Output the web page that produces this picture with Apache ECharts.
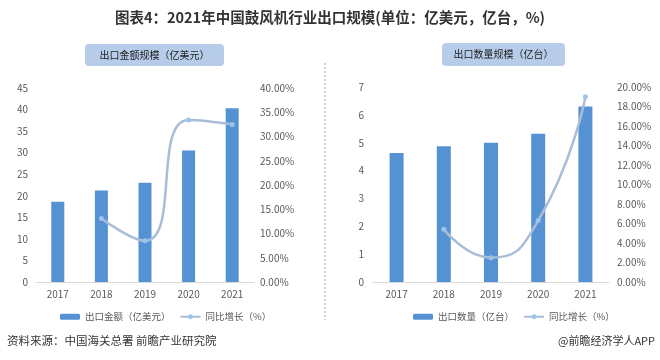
<!DOCTYPE html>
<html><head><meta charset="utf-8">
<script src="https://cdn.jsdelivr.net/npm/echarts@6/dist/echarts.min.js"></script>
<style>html,body{margin:0;padding:0;background:#fff}#c{width:660px;height:360px}</style>
</head><body><div id="c"></div>
<script>
var years = ['2017','2018','2019','2020','2021'];
var exportValue = [18.6, 21.2, 23.0, 30.5, 40.3];
var valueGrowth = [null, 0.131, 0.085, 0.334, 0.325];
var exportVolume = [4.63, 4.87, 5.0, 5.32, 6.3];
var volumeGrowth = [null, 0.054, 0.025, 0.063, 0.19];
var titleText = '图表4：2021年中国鼓风机行业出口规模(单位：亿美元，亿台，%)';
var leftBox = '出口金额规模（亿美元）';
var rightBox = '出口数量规模（亿台）';
var nameValue = '出口金额（亿美元）';
var nameVolume = '出口数量（亿台）';
var nameGrowth = '同比增长（%）';

var FONT = '"Noto Sans CJK SC", "Noto Sans", sans-serif';
var BAR = '#5592d4';
var LINE = '#a9bdd6';
var DOT = '#9cc5ec';
var LBL = {color:'#595959', fontSize:10, fontFamily:FONT};

function pct(v){ return (v*100).toFixed(2) + '%'; }

var chart = echarts.init(document.getElementById('c'), null, {renderer:'canvas'});
chart.setOption({
  animation:false,
  textStyle:{fontFamily:FONT},
  grid:[
    {left:36, top:88, width:218, height:194},
    {left:373, top:87, width:236, height:195}
  ],
  xAxis:[
    {gridIndex:0, type:'category', data:years, axisTick:{show:false},
     axisLine:{lineStyle:{color:'#d9d9d9'}}, axisLabel:Object.assign({margin:7}, LBL)},
    {gridIndex:1, type:'category', data:years, axisTick:{show:false},
     axisLine:{lineStyle:{color:'#d9d9d9'}}, axisLabel:Object.assign({margin:7}, LBL)}
  ],
  yAxis:[
    {gridIndex:0, type:'value', min:0, max:45, interval:5, splitLine:{show:false},
     axisLine:{show:false}, axisTick:{show:false}, axisLabel:Object.assign({margin:8}, LBL)},
    {gridIndex:0, type:'value', min:0, max:0.40, interval:0.05, splitLine:{show:false},
     axisLine:{show:false}, axisTick:{show:false}, axisLabel:Object.assign({margin:6, formatter:pct}, LBL)},
    {gridIndex:1, type:'value', min:0, max:7, interval:1, splitLine:{show:false},
     axisLine:{show:false}, axisTick:{show:false}, axisLabel:Object.assign({margin:9}, LBL)},
    {gridIndex:1, type:'value', min:0, max:0.20, interval:0.02, splitLine:{show:false},
     axisLine:{show:false}, axisTick:{show:false}, axisLabel:Object.assign({margin:8, formatter:pct}, LBL)}
  ],
  legend:[
    {left:55, top:307, itemWidth:20, itemHeight:6, itemGap:9, data:[nameValue, nameGrowth],
     textStyle:{color:'#595959', fontSize:9.5, fontFamily:FONT}},
    {left:408, top:307, itemWidth:20, itemHeight:6, itemGap:9, data:[nameVolume, nameGrowth],
     textStyle:{color:'#595959', fontSize:9.5, fontFamily:FONT}}
  ],
  series:[
    {name:nameValue, type:'bar', xAxisIndex:0, yAxisIndex:0, data:exportValue, barWidth:13,
     itemStyle:{color:BAR}},
    {name:nameGrowth, type:'line', xAxisIndex:0, yAxisIndex:1, data:valueGrowth, smooth:0.55,
     symbol:'circle', symbolSize:5, lineStyle:{color:LINE, width:2.5}, itemStyle:{color:DOT}},
    {name:nameVolume, type:'bar', xAxisIndex:1, yAxisIndex:2, data:exportVolume, barWidth:14,
     itemStyle:{color:BAR}},
    {name:nameGrowth, type:'line', xAxisIndex:1, yAxisIndex:3, data:volumeGrowth, smooth:0.55,
     symbol:'circle', symbolSize:5, lineStyle:{color:LINE, width:2.5}, itemStyle:{color:DOT}}
  ],
  graphic:[
    {type:'text', left:'center', top:10, style:{text:titleText, fill:'#333', fontSize:14.5, fontWeight:'bold', fontFamily:FONT}},
    {type:'rect', shape:{x:85, y:44, width:139, height:22, r:4}, style:{fill:'#b7cce9'}},
    {type:'text', x:154.5, y:55, style:{text:leftBox, fill:'#222', fontSize:10, fontFamily:FONT, align:'center', verticalAlign:'middle'}},
    {type:'rect', shape:{x:442, y:43, width:123, height:23, r:4}, style:{fill:'#b7cce9'}},
    {type:'text', x:503.5, y:54.5, style:{text:rightBox, fill:'#222', fontSize:10, fontFamily:FONT, align:'center', verticalAlign:'middle'}},
    {type:'line', shape:{x1:325, y1:63, x2:325, y2:320}, style:{stroke:'#9aa0a8', lineWidth:1, lineDash:[2,2]}},
    {type:'text', x:7, y:341, style:{text:'资料来源：中国海关总署 前瞻产业研究院', fill:'#333', fontSize:11.5, fontFamily:FONT, verticalAlign:'middle'}},
    {type:'text', x:655, y:341, style:{text:'@前瞻经济学人APP', fill:'#333', fontSize:11, fontFamily:FONT, align:'right', verticalAlign:'middle'}}
  ]
});
</script></body></html>
